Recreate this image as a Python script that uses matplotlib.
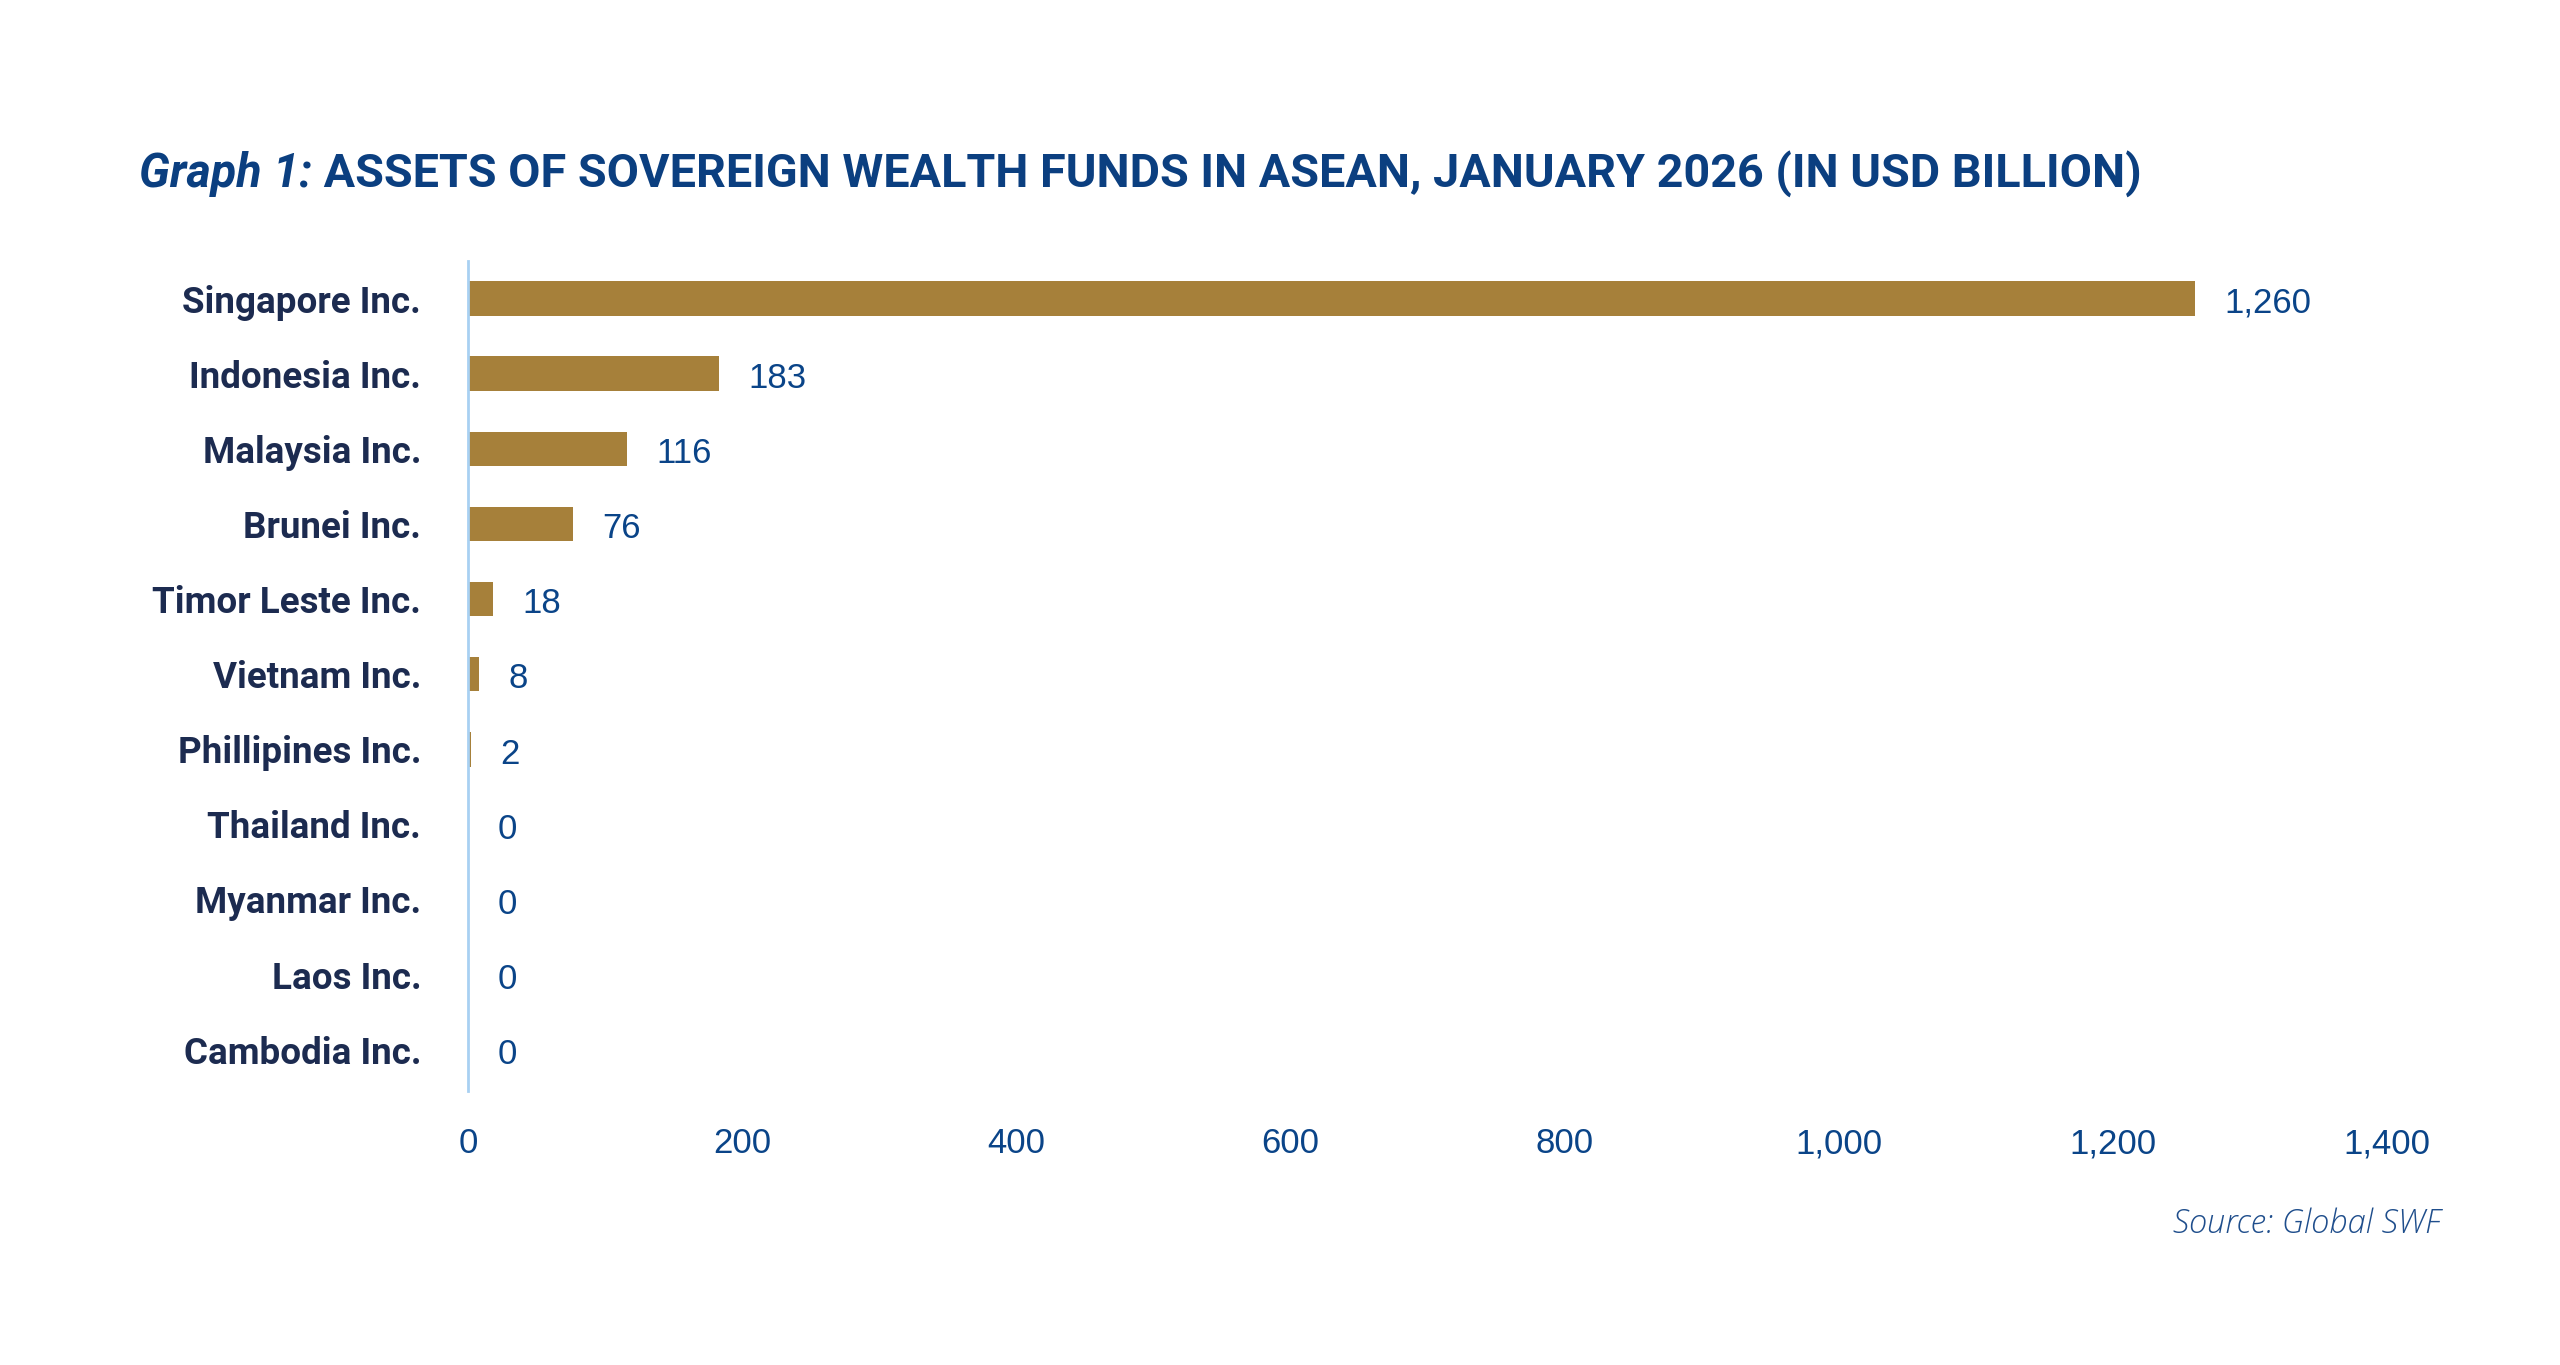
import matplotlib
matplotlib.use("Agg")
import matplotlib.pyplot as plt
from matplotlib.ticker import FuncFormatter

categories = ["Singapore Inc.", "Indonesia Inc.", "Malaysia Inc.", "Brunei Inc.",
              "Timor Leste Inc.", "Vietnam Inc.", "Phillipines Inc.", "Thailand Inc.",
              "Myanmar Inc.", "Laos Inc.", "Cambodia Inc."]
values = [1260, 183, 116, 76, 18, 8, 2, 0, 0, 0, 0]
xticks = [0, 200, 400, 600, 800, 1000, 1200, 1400]

title_prefix = "Graph 1:"
title_main = " ASSETS OF SOVEREIGN WEALTH FUNDS IN ASEAN, JANUARY 2026 (IN USD BILLION)"
source = "Source: Global SWF"

BAR = "#A6803A"
NAVY = "#0B3F80"
LABEL = "#1C2B50"
TICK = "#0A4488"
AXIS = "#A8D0F2"

fig = plt.figure(figsize=(25.6, 13.65), dpi=100)
ax = fig.add_axes([0.1830, 0.2007, 0.9324 - 0.1830, 0.8088 - 0.2007])

y = list(range(len(categories)))
ax.barh(y, values, height=0.46, color=BAR)
ax.set_xlim(0, 1400)
ax.set_ylim(10.55, -0.5)
ax.set_yticks(y)
ax.set_yticklabels(categories, fontsize=26.5, color=LABEL, family="Roboto", fontweight="bold")
ax.set_xticks(xticks)
ax.xaxis.set_major_formatter(FuncFormatter(lambda v, p: f"{int(v):,}"))
for lab in ax.get_xticklabels():
    lab.set_fontsize(25)
    lab.set_color(TICK)
    lab.set_family("Liberation Sans")
ax.tick_params(axis="x", length=0, pad=26)
ax.tick_params(axis="y", length=0, pad=34)
for s in ["top", "right", "bottom"]:
    ax.spines[s].set_visible(False)
ax.spines["left"].set_color(AXIS)
ax.spines["left"].set_linewidth(2)

for yi, v in zip(y, values):
    ax.annotate(f"{v:,}", xy=(v, yi), xytext=(21, -3.5), textcoords="offset points",
                va="center", ha="left", fontsize=25, color=TICK, family="Liberation Sans")

# Title
t1 = fig.text(139 / 2560, 1 - 174 / 1365, title_prefix, fontsize=33.7, color=NAVY,
              family="Roboto", fontweight="bold", fontstyle="italic", va="center", ha="left")
fig.canvas.draw()
r = fig.canvas.get_renderer()
bb = t1.get_window_extent(r)
fig.text(bb.x1 / 2560, 1 - 174 / 1365, title_main, fontsize=33.7, color=NAVY,
         family="Roboto", fontweight="bold", va="center", ha="left")

fig.text(2441 / 2560, 1 - 1224 / 1365, source, fontsize=23.5, color="#1F4E8C",
         family="Open Sans", fontweight="light", fontstyle="italic", va="center", ha="right")

fig.savefig("out.png", dpi=100, facecolor="white")
